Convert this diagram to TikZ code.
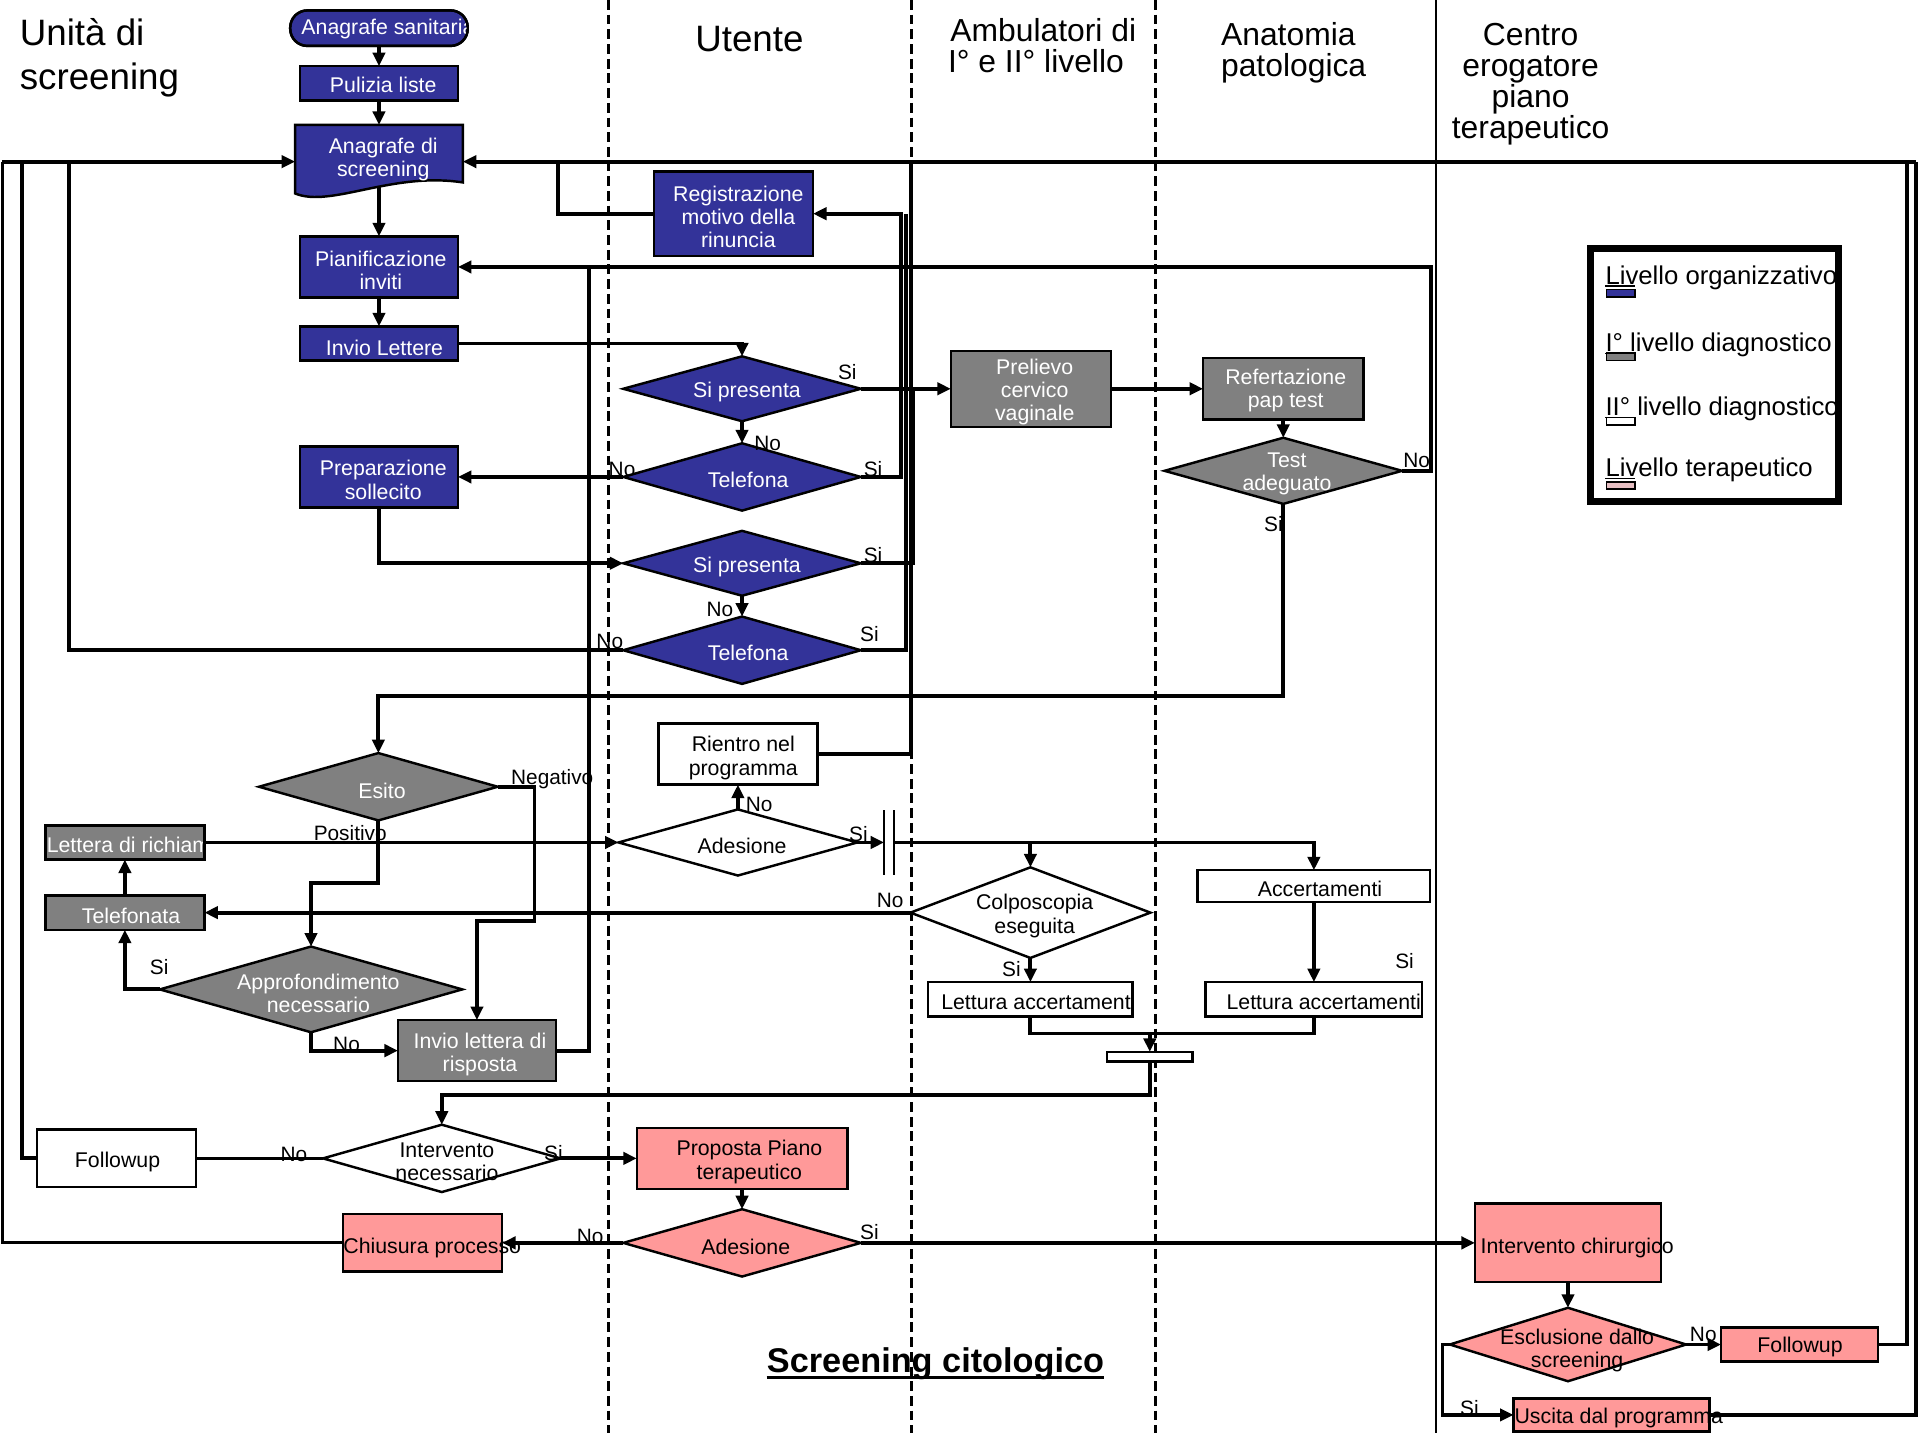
\documentclass[tikz,border=0pt]{standalone}
\usepackage{fontspec}
\setmainfont{Liberation Sans}
\usetikzlibrary{arrows.meta,shapes.geometric}
\definecolor{cBlue}{HTML}{333399}
\definecolor{cGray}{HTML}{808080}
\definecolor{cPink}{HTML}{FF9999}
\definecolor{cLPink}{HTML}{E6BEC2}
\newcommand\myNF{\fontsize{17.4}{19}\selectfont}
\newcommand\myLF{\fontsize{17}{19}\selectfont}
\newcommand\myHF{\fontsize{26}{26}\selectfont}
\newcommand\myHB{\fontsize{30}{36}\selectfont}
\newcommand\myGF{\fontsize{21}{24}\selectfont}
\newcommand\myTF{\fontsize{28}{32}\selectfont}
\tikzset{
 bx/.style={draw=black, line width=2pt, inner sep=0pt, outer sep=0pt, rectangle},
 dm/.style={draw=black, line width=2pt, inner sep=0pt, outer sep=0pt, diamond},
 tw/.style={text=white, font=\myNF, align=center, inner sep=0pt},
 tb/.style={text=black, font=\myNF, align=center, inner sep=0pt},
 lab/.style={font=\myLF, inner sep=0pt},
 hd/.style={inner sep=0pt},
 conn/.style={line width=3.2pt},
 arr/.style={conn, -{Triangle[length=11pt,width=10pt]}},
 lane/.style={line width=2.4pt, dash pattern=on 8pt off 4pt},
}
\begin{document}
\begin{tikzpicture}[x=1pt,y=-1pt]
\useasboundingbox (0,0) rectangle (1568,1176);

% swimlane separators
\draw[lane] (497,0) -- (497,1170);
\draw[lane] (744,0) -- (744,1170);
\draw[lane] (944,0) -- (944,1170);
\draw[line width=1.5pt] (1173,0) -- (1173,1170);

% headers
\node[hd, font=\myHB, anchor=base west] (h1a) at (16,37) {Unità di};
\node[hd, font=\myHB, anchor=base west] (h1b) at (16,73) {screening};
\node[hd, font=\myHB, anchor=base] (h2) at (612,42) {Utente};
\node[hd, font=\myHF, anchor=base] (h3a) at (852,34) {Ambulatori di};
\node[hd, font=\myHF, anchor=base] (h3b) at (846,59.5) {I° e II° livello};
\node[hd, font=\myHF, anchor=base west] (h4a) at (997,37) {Anatomia};
\node[hd, font=\myHF, anchor=base west] (h4b) at (997,62.5) {patologica};
\node[hd, font=\myHF, anchor=base] (h5a) at (1250,37) {Centro};
\node[hd, font=\myHF, anchor=base] (h5b) at (1250,62.5) {erogatore};
\node[hd, font=\myHF, anchor=base] (h5c) at (1250,88) {piano};
\node[hd, font=\myHF, anchor=base] (h5d) at (1250,113.5) {terapeutico};

% title
\node[hd, font=\bfseries\myTF, anchor=base] (title) at (764,1121) {Screening citologico};
\draw[line width=2pt] ([yshift=-4pt]title.base west) -- ([yshift=-4pt]title.base east);

% bus coordinates
\coordinate (busL) at (2,132);
\coordinate (busL2) at (18,132);
\coordinate (busL3) at (56,132);
\coordinate (busA) at (456,132);
\coordinate (busR) at (1565,132);
\coordinate (busR2) at (1557,132);
\coordinate (j1) at (746,317.5);
\coordinate (j2) at (740,174.5);
\coordinate (j3) at (744,132);
\coordinate (j4) at (481,218);
\coordinate (jb) at (939,844);

% ---- Unita di screening column
\node[bx, fill=cBlue, rounded corners=14pt, minimum width=145, minimum height=29] (anas) at (309.5,23) {};
\begin{scope}
\clip[rounded corners=14pt] (anas.north west) rectangle (anas.south east);
\node[tw, anchor=west] (anast) at (246,24) {Anagrafe sanitaria};
\end{scope}
\draw[line width=2pt, rounded corners=14pt] (anas.north west) rectangle (anas.south east);

\node[bx, fill=cBlue, minimum width=129, minimum height=28] (pul) at (309.5,68) {};
\node[tw] (pult) at (313,69) {Pulizia liste};

\node[inner sep=0pt, outer sep=0pt, minimum width=137, minimum height=60] (anag) at (309.5,132) {};
\draw[line width=2pt, fill=cBlue] (241,102) -- (378,102) -- (378,149) .. controls (320,140) and (270,170) .. (241,158) -- cycle;
\node[tw] (anagt) at (313,130) {Anagrafe di\\screening};
\coordinate (anagb) at (309.5,153);

\node[bx, fill=cBlue, minimum width=129, minimum height=50] (pian) at (309.5,218) {};
\node[tw] (piant) at (311,221) {Pianificazione\\inviti};

\node[bx, fill=cBlue, minimum width=129, minimum height=28] (inv) at (309.5,280.5) {};
\node[tw] (invt) at (314,284) {Invio Lettere};

\node[bx, fill=cBlue, minimum width=129, minimum height=50] (prep) at (309.5,389.5) {};
\node[tw] (prept) at (313,392) {Preparazione\\sollecito};

\node[dm, fill=cGray, minimum width=195, minimum height=55] (esito) at (309,642.5) {};
\node[tw] (esitot) at (312,646) {Esito};

\node[bx, fill=cGray, minimum width=130, minimum height=28] (lett) at (102,688) {};
\begin{scope}
\clip (lett.north west) rectangle (lett.south east);
\node[tw, anchor=west] (lettt) at (38,690) {Lettera di richiamo};
\end{scope}
\draw[line width=2pt] (lett.north west) rectangle (lett.south east);

\node[bx, fill=cGray, minimum width=130, minimum height=28] (telf) at (102,745.3) {};
\node[tw] (telft) at (107,748) {Telefonata};

\node[dm, fill=cGray, minimum width=247, minimum height=70] (app) at (254,808) {};
\node[tw] (appt) at (260,811) {Approfondimento\\necessario};

\node[bx, fill=cGray, minimum width=129, minimum height=50] (inv2) at (389.5,858) {};
\node[tw] (inv2t) at (392,861) {Invio lettera di\\risposta};

\node[bx, fill=white, minimum width=130, minimum height=47] (fu1) at (95,946) {};
\node[tb] (fu1t) at (96,949) {Followup};

\node[dm, fill=white, minimum width=194, minimum height=55] (intn) at (360.8,946) {};
\node[tb] (intnt) at (365,949) {Intervento\\necessario};

\node[bx, fill=cPink, minimum width=130, minimum height=47] (chi) at (345,1015) {};
\node[tb] (chit) at (353,1019) {Chiusura processo};

% ---- Utente column
\node[bx, fill=cBlue, minimum width=130, minimum height=69] (reg) at (599,174.5) {};
\node[tw] (regt) at (603,177) {Registrazione\\motivo della\\rinuncia};

\node[dm, fill=cBlue, minimum width=194, minimum height=53] (sp1) at (606,317.5) {};
\node[tw] (sp1t) at (610,320) {Si presenta};
\node[dm, fill=cBlue, minimum width=194, minimum height=55] (tel1) at (606,389.5) {};
\node[tw] (tel1t) at (611,392) {Telefona};
\node[dm, fill=cBlue, minimum width=194, minimum height=53] (sp2) at (606,460) {};
\node[tw] (sp2t) at (610,463) {Si presenta};
\node[dm, fill=cBlue, minimum width=194, minimum height=55] (tel2) at (606,531) {};
\node[tw] (tel2t) at (611,533) {Telefona};

\node[bx, fill=white, minimum width=130, minimum height=50] (rie) at (602.6,615.8) {};
\node[tb] (riet) at (607,619) {Rientro nel\\programma};

\node[dm, fill=white, minimum width=195, minimum height=54] (ad1) at (602.6,688) {};
\node[tb] (ad1t) at (606,691) {Adesione};

\node[inner sep=0pt, outer sep=0pt, minimum width=8, minimum height=53] (fork) at (726,688) {};
\draw[line width=1.8pt] (fork.north west) -- (fork.south west);
\draw[line width=1.8pt] (fork.north east) -- (fork.south east);

\node[bx, fill=cPink, minimum width=172, minimum height=50] (prop) at (606,946) {};
\node[tb] (propt) at (612,949) {Proposta Piano\\terapeutico};

\node[dm, fill=cPink, minimum width=194, minimum height=55] (ad2) at (606,1015) {};
\node[tb] (ad2t) at (609,1018) {Adesione};

% ---- Ambulatori column
\node[bx, fill=cGray, minimum width=131, minimum height=62] (prel) at (842,317.5) {};
\node[tw] (prelt) at (845,320) {Prelievo\\cervico\\vaginale};

\node[dm, fill=white, minimum width=196, minimum height=74] (colp) at (841.5,745.3) {};
\node[tb] (colpt) at (845,748) {Colposcopia\\eseguita};

\node[bx, fill=white, minimum width=167, minimum height=28] (la1) at (841.5,816) {};
\node[tb] (la1t) at (848,818) {Lettura accertamenti};

\node[bx, fill=white, minimum width=70, minimum height=8] (bar) at (939,863) {};

% ---- Anatomia patologica column
\node[bx, fill=cGray, minimum width=131, minimum height=50] (ref) at (1048,317.5) {};
\node[tw] (reft) at (1050,319) {Refertazione\\pap test};

\node[dm, fill=cGray, minimum width=194, minimum height=54] (test) at (1048,384.5) {};
\node[tw] (testt) at (1051,387) {Test\\adeguato};

\node[bx, fill=white, minimum width=190, minimum height=26] (acc) at (1073,723.7) {};
\node[tb] (acct) at (1078,726) {Accertamenti};

\node[bx, fill=white, minimum width=177, minimum height=28] (la2) at (1073,816) {};
\node[tb] (la2t) at (1081,818) {Lettura accertamenti};

% ---- Centro erogatore column
\node[bx, fill=cPink, minimum width=152, minimum height=64] (ich) at (1280.5,1015) {};
\node[tb] (icht) at (1288,1019) {Intervento chirurgico};

\node[dm, fill=cPink, minimum width=193, minimum height=60] (esc) at (1280.5,1098) {};
\node[tb] (esct) at (1288,1103) {Esclusione dallo\\screening};

\node[bx, fill=cPink, minimum width=128, minimum height=28] (fu2) at (1469.5,1098) {};
\node[tb] (fu2t) at (1470,1100) {Followup};

\node[bx, fill=cPink, minimum width=160, minimum height=27] (usc) at (1316,1155.5) {};
\node[tb] (usct) at (1322,1158) {Uscita dal programma};

% ---- legend
\fill[white] (1298.75,202.75) rectangle (1501.25,409.25);
\node[hd, font=\myGF, anchor=base west] (lg1) at (1311,232) {Livello organizzativo};
\node[hd, font=\myGF, anchor=base west] (lg2) at (1311,287) {I° livello diagnostico};
\node[hd, font=\myGF, anchor=base west] (lg3) at (1311,339.5) {II° livello diagnostico};
\node[hd, font=\myGF, anchor=base west] (lg4) at (1311,389) {Livello terapeutico};
\draw[line width=1.3pt, fill=cBlue] (1312,236.5) rectangle (1335,242.5);
\draw[line width=1.3pt, fill=cGray] (1312,288.5) rectangle (1335,294.5);
\draw[line width=1.3pt, fill=white] (1312,341) rectangle (1335,347);
\draw[line width=1.3pt, fill=cLPink] (1312,393.5) rectangle (1335,399.5);
\draw[line width=1pt] (1311,233.5) -- (1335,233.5);
\draw[line width=1pt] (1311,288.5) -- (1335,288.5);
\draw[line width=1pt] (1311,341) -- (1335,341);
\draw[line width=1pt] (1311,390.5) -- (1335,390.5);
\draw[line width=5.5pt] (1298.75,202.75) rectangle (1501.25,409.25);

% ---- connectors
\draw[arr] (anas.south) -- (pul.north);
\draw[arr] (pul.south) -- (anag.north);
\draw[arr] (anagb) -- (pian.north);
\draw[arr] (pian.south) -- (inv.north);
\draw[arr] (inv.east) -| (sp1.north);
\draw[arr] (sp1.east) -- (prel.west);
\draw[arr] (sp1.south) -- (tel1.north);
\draw[arr] (tel1.west) -- (prep.east);
\draw[arr] (tel1.east) -- ++(33,0) |- (reg.east);
\draw[conn] (reg.west) -| (busA);
\draw[arr] (prep.south) |- (sp2.west);
\draw[arr] (sp2.south) -- (tel2.north);
\draw[conn] (sp2.east) -| (j1);
\draw[conn] (tel2.east) -| (j2);
\draw[conn] (tel2.west) -| (busL3);
\draw[conn] (rie.east) -| (j3);
\draw[arr] (prel.east) -- (ref.west);
\draw[arr] (ref.south) -- (test.north);
\draw[arr] (test.east) -- ++(24,0) |- (pian.east);
\draw[conn] (inv2.east) -| (j4);
\draw[arr] (test.south) -- ++(0,157) -| (esito.north);
\draw[arr] (esito.east) -- ++(30,0) -- ++(0,109.5) -| (inv2.north);
\draw[arr] (esito.south) -- ++(0,51) -| (app.north);
\draw[arr] (app.west) -| (telf.south);
\draw[arr] (telf.north) -- (lett.south);
\draw[arr] (app.south) |- (inv2.west);
\draw[arr] (lett.east) -- (ad1.west);
\draw[arr] (ad1.north) -- (rie.south);
\draw[arr] (ad1.east) -- (fork.west);
\draw[arr] (fork.east) -| (acc.north);
\draw[arr] (colp.north |- fork.east) -- (colp.north);
\draw[arr] (colp.west) -- (telf.east);
\draw[arr] (colp.south) -- (la1.north);
\draw[arr] (acc.south) -- (la2.north);
\draw[conn] (la1.south) |- (jb) -| (la2.south);
\draw[arr] (jb) -- (bar.north);
\draw[arr] (bar.south) -- ++(0,27) -| (intn.north);
\draw[conn, line width=2.2pt] (intn.west) -- (fu1.east);
\draw[conn] (fu1.west) -| (busL2);
\draw[arr] (intn.east) -- (prop.west);
\draw[arr] (prop.south) -- (ad2.north);
\draw[arr] (ad2.west) -- (chi.east);
\draw[conn, line width=2.4pt] (chi.west) -| (busL);
\draw[arr] (busL) -- (anag.west);
\draw[arr] (ad2.east) -- (ich.west);
\draw[arr] (ich.south) -- (esc.north);
\draw[arr] (esc.east) -- (fu2.west);
\draw[arr] (esc.west) -- ++(-6,0) |- (usc.west);
\draw[conn] (fu2.east) -| (busR2);
\draw[conn] (usc.east) -| (busR);
\draw[arr] (busR) -- (anag.east);

% ---- connector labels
\node[lab] (l1) at (692,304) {Si};
\node[lab] (l2) at (627,362) {No};
\node[lab] (l3) at (508,383) {No};
\node[lab] (l4) at (713,383) {Si};
\node[lab] (l5) at (713,453) {Si};
\node[lab] (l6) at (588,498) {No};
\node[lab] (l7) at (498,524) {No};
\node[lab] (l8) at (710,518) {Si};
\node[lab] (l9) at (1157,376) {No};
\node[lab] (l10) at (1040,428) {Si};
\node[lab] (l11) at (451,636) {Negativo};
\node[lab] (l12) at (286,680) {Positivo};
\node[lab] (l13) at (620,657) {No};
\node[lab] (l14) at (701,681) {Si};
\node[lab] (l15) at (727,735) {No};
\node[lab] (l16) at (826,791) {Si};
\node[lab] (l17) at (1147,785) {Si};
\node[lab] (l18) at (130,790) {Si};
\node[lab] (l19) at (283,853) {No};
\node[lab] (l20) at (240,943) {No};
\node[lab] (l21) at (452,942) {Si};
\node[lab] (l22) at (482,1010) {No};
\node[lab] (l23) at (710,1006) {Si};
\node[lab] (l24) at (1391,1090) {No};
\node[lab] (l25) at (1200,1150) {Si};
\end{tikzpicture}
\end{document}
